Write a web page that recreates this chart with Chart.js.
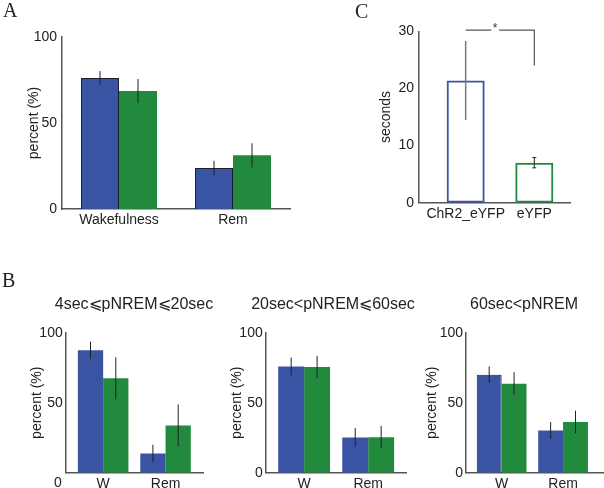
<!DOCTYPE html>
<html>
<head>
<meta charset="utf-8">
<script src="https://cdn.jsdelivr.net/npm/chart.js@4.4.0/dist/chart.umd.min.js"></script>
<style>
html, body { margin: 0; padding: 0; background: #fff; }
#wrap { position: relative; width: 604px; height: 488px; overflow: hidden; font-family: "Liberation Sans", Arial, sans-serif; }
canvas { position: absolute; left: 0; top: 0; }
.letter { position: absolute; font-family: "Liberation Serif", "Times New Roman", serif; font-size: 20px; line-height: 20px; color: #222; }
.sub { position: absolute; font-size: 16px; line-height: 20px; white-space: nowrap; transform: translateX(-50%); color: #222; }
</style>
</head>
<body>
<div id="wrap">
  <canvas id="cA" width="604" height="488"></canvas>
  <canvas id="cC" width="604" height="488"></canvas>
  <canvas id="cB1" width="604" height="488"></canvas>
  <canvas id="cB2" width="604" height="488"></canvas>
  <canvas id="cB3" width="604" height="488"></canvas>
  <div class="letter" style="left:3px;top:0px">A</div>
  <div class="letter" style="left:355px;top:1px">C</div>
  <div class="letter" style="left:2px;top:270px">B</div>
  <div class="sub" id="t1" style="left:134px;top:294px"></div>
  <div class="sub" id="t2" style="left:333px;top:294px"></div>
  <div class="sub" id="t3" style="left:524px;top:294px"></div>
</div>
<script>
// panel A: percent of time per state
const stateCats = ['Wakefulness', 'Rem'];
const aChR2 = [76.2, 23.8];
const aChR2Err = [4.0, 4.2];
const aYFP = [68.6, 31.2];
const aYFPErr = [7.0, 7.0];

// panel C: latency in seconds
const durCats = ['ChR2_eYFP', 'eYFP'];
const durVals = [21.4, 7.0];
const durErr = [6.9, 0.9];
const sigLevel = 30.2;
const sigDrop = 24;

// panel B: split by pNREM duration
const bCats = ['W', 'Rem'];
const bTitles = ['4sec\u2A7DpNREM\u2A7D20sec', '20sec<pNREM\u2A7D60sec', '60sec<pNREM'];
const b1ChR2 = [87.4, 13.8];
const b1ChR2Err = [6.2, 6.2];
const b1YFP = [67.4, 33.8];
const b1YFPErr = [15, 15];
const b2ChR2 = [75.9, 25.2];
const b2ChR2Err = [6.3, 6.7];
const b2YFP = [75.5, 25.4];
const b2YFPErr = [8, 8];
const b3ChR2 = [70.0, 30.2];
const b3ChR2Err = [5.9, 6.0];
const b3YFP = [63.6, 36.2];
const b3YFPErr = [8.2, 8.0];

const percentTicks = [0, 50, 100];
const secondTicks = [0, 10, 20, 30];

const BLUE = '#3a54a4';
const GREEN = '#228a3c';
const FONT = '"Liberation Sans", Arial, sans-serif';
const W = 604, H = 488;

bTitles.forEach((t, i) => { document.getElementById('t' + (i + 1)).textContent = t; });

const pts = vals => vals.map((v, i) => ({ x: i + 1, y: v }));

const errorBars = {
  id: 'errorBars',
  afterDatasetsDraw(chart) {
    const { ctx } = chart;
    const y = chart.scales.y;
    chart.data.datasets.forEach((ds, i) => {
      chart.getDatasetMeta(i).data.forEach((bar, j) => {
        const v = ds.data[j].y, e = ds.err[j];
        const top = y.getPixelForValue(v + e), bot = y.getPixelForValue(v - e);
        const pick = p => Array.isArray(p) ? p[j] : p;
        ctx.save();
        ctx.strokeStyle = pick(ds.errColor) || '#222';
        ctx.lineWidth = pick(ds.errWidth) || 1;
        ctx.beginPath();
        ctx.moveTo(bar.x, top);
        ctx.lineTo(bar.x, bot);
        const cap = pick(ds.errCap) || 0;
        if (cap) {
          ctx.moveTo(bar.x - cap / 2, top); ctx.lineTo(bar.x + cap / 2, top);
          ctx.moveTo(bar.x - cap / 2, bot); ctx.lineTo(bar.x + cap / 2, bot);
        }
        ctx.stroke();
        ctx.restore();
      });
    });
  }
};

const sigBracket = {
  id: 'sigBracket',
  afterDraw(chart) {
    const { ctx, scales: { x, y } } = chart;
    const x1 = x.getPixelForValue(1), x2 = x.getPixelForValue(2);
    const yb = y.getPixelForValue(sigLevel), ye = y.getPixelForValue(sigDrop);
    const xs = x1 + (x2 - x1) * 0.43;
    ctx.save();
    ctx.strokeStyle = '#555';
    ctx.lineWidth = 1.2;
    ctx.beginPath();
    ctx.moveTo(x1, yb); ctx.lineTo(xs - 4, yb);
    ctx.moveTo(xs + 4, yb); ctx.lineTo(x2, yb); ctx.lineTo(x2, ye);
    ctx.stroke();
    ctx.fillStyle = '#333';
    ctx.font = '12px ' + FONT;
    ctx.textAlign = 'center';
    ctx.textBaseline = 'alphabetic';
    ctx.fillText('*', xs, yb + 2);
    ctx.restore();
  }
};

// the zero label of the first B panel sits lower than the axis
const lowZero = {
  id: 'lowZero',
  afterDraw(chart) {
    const { ctx, scales: { y }, chartArea } = chart;
    ctx.save();
    ctx.fillStyle = '#222';
    ctx.font = '14px ' + FONT;
    ctx.textAlign = 'right';
    ctx.textBaseline = 'middle';
    ctx.fillText('0', chartArea.left - 4, y.getPixelForValue(0) + 10);
    ctx.restore();
  }
};

function makePanel(id, p) {
  const padLeft = p.titleX - 8.4;
  const axisBorder = { color: '#555', width: 1.5 };
  return new Chart(document.getElementById(id), {
    type: 'bar',
    data: { datasets: p.datasets },
    options: {
      responsive: false,
      animation: false,
      events: [],
      layout: { padding: { left: padLeft, top: p.area.t, right: W - p.area.r, bottom: 0 } },
      plugins: { legend: { display: false }, tooltip: { enabled: false } },
      datasets: { bar: { categoryPercentage: p.catPct, barPercentage: p.barPct } },
      scales: {
        x: {
          type: 'linear', min: p.xMin, max: p.xMax, offset: false,
          grid: { display: false, drawTicks: false, offset: false },
          border: axisBorder,
          afterBuildTicks: s => { s.ticks = p.cats.map((c, i) => ({ value: i + 1 })); },
          afterFit: s => { s.height = H - p.area.b; },
          ticks: {
            autoSkip: false, maxRotation: 0, padding: 3, color: '#222',
            font: { family: FONT, size: 14 },
            callback: v => p.cats[v - 1]
          }
        },
        y: {
          min: 0, max: p.yMax,
          grid: { display: false, drawTicks: false },
          border: axisBorder,
          afterBuildTicks: s => { s.ticks = p.yTicks.map(v => ({ value: v })); },
          afterFit: s => { s.width = p.area.l - padLeft; },
          ticks: {
            padding: p.tickPad, color: '#222',
            font: { family: FONT, size: 14 },
            callback: v => (p.hideZero && v === 0) ? '' : String(v)
          },
          title: { display: true, text: p.yTitle, padding: 0, color: '#222', font: { family: FONT, size: 14 } }
        }
      }
    },
    plugins: [errorBars].concat(p.plugins || [])
  });
}

function pairSets(blue, blueErr, green, greenErr, blueBorder) {
  return [
    { data: pts(blue), err: blueErr, backgroundColor: BLUE, borderColor: '#1c1c30', borderWidth: blueBorder },
    { data: pts(green), err: greenErr, backgroundColor: GREEN, borderWidth: 0 }
  ];
}

makePanel('cA', {
  area: { l: 62, r: 290, t: 37, b: 209 }, titleX: 34, tickPad: 5,
  xMin: 0.5, xMax: 2.5, yMax: 100, yTicks: percentTicks, cats: stateCats,
  catPct: 0.667, barPct: 1, yTitle: 'percent (%)',
  datasets: pairSets(aChR2, aChR2Err, aYFP, aYFPErr, 1)
});

makePanel('cC', {
  area: { l: 419, r: 570, t: 31.3, b: 202.7 }, titleX: 386, tickPad: 5,
  xMin: 0.32, xMax: 2.52, yMax: 30, yTicks: secondTicks, cats: durCats,
  catPct: 1, barPct: 0.554, yTitle: 'seconds',
  datasets: [{
    data: pts(durVals), err: durErr,
    backgroundColor: 'rgba(255,255,255,0)', borderColor: [BLUE, GREEN], borderWidth: 2, borderSkipped: false,
    errColor: ['#777', '#222'], errWidth: [1.5, 1], errCap: [0, 4]
  }],
  plugins: [sigBracket]
});

makePanel('cB1', {
  area: { l: 65.7, r: 203, t: 332.7, b: 472.7 }, titleX: 37, tickPad: 3,
  xMin: 0.4, xMax: 2.6, yMax: 100, yTicks: percentTicks, cats: bCats,
  catPct: 0.81, barPct: 1, yTitle: 'percent (%)', hideZero: true,
  datasets: pairSets(b1ChR2, b1ChR2Err, b1YFP, b1YFPErr, 0),
  plugins: [lowZero]
});

makePanel('cB2', {
  area: { l: 265.7, r: 406.6, t: 332.7, b: 472.7 }, titleX: 237.5, tickPad: 3,
  xMin: 0.4, xMax: 2.6, yMax: 100, yTicks: percentTicks, cats: bCats,
  catPct: 0.81, barPct: 1, yTitle: 'percent (%)',
  datasets: pairSets(b2ChR2, b2ChR2Err, b2YFP, b2YFPErr, 0)
});

makePanel('cB3', {
  area: { l: 466, r: 603, t: 332.7, b: 472.7 }, titleX: 432.5, tickPad: 3,
  xMin: 0.42, xMax: 2.65, yMax: 100, yTicks: percentTicks, cats: bCats,
  catPct: 0.81, barPct: 1, yTitle: 'percent (%)',
  datasets: pairSets(b3ChR2, b3ChR2Err, b3YFP, b3YFPErr, [1, 0])
});
</script>
</body>
</html>
